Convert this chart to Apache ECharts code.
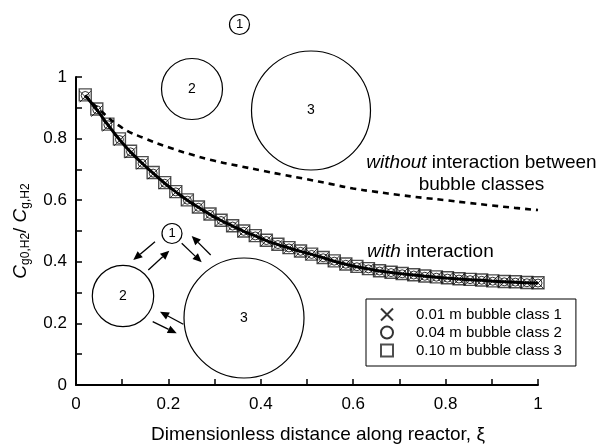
<!DOCTYPE html>
<html><head><meta charset="utf-8">
<script src="https://cdn.jsdelivr.net/npm/echarts@6/dist/echarts.min.js"></script>
<style>html,body{margin:0;padding:0;background:#fff}#c{width:600px;height:445px}</style>
</head><body><div id="c"></div>
<script>
// ---- data ----
const xTickLabels = ['0', '0.2', '0.4', '0.6', '0.8', '1'];
const yTickLabels = ['0', '0.2', '0.4', '0.6', '0.8', '1'];
const seriesNames = ['0.01 m bubble class 1', '0.04 m bubble class 2', '0.10 m bubble class 3'];
const markerX = [0.020,0.045,0.069,0.094,0.118,0.143,0.167,0.192,0.216,0.241,0.265,0.290,0.314,0.339,0.363,0.388,0.412,0.437,0.461,0.486,0.510,0.535,0.559,0.584,0.608,0.633,0.657,0.682,0.706,0.731,0.755,0.780,0.804,0.829,0.853,0.878,0.902,0.927,0.951,0.976,1.000];
const class1 = [0.936,0.889,0.841,0.794,0.754,0.718,0.686,0.654,0.626,0.600,0.577,0.554,0.534,0.516,0.499,0.484,0.469,0.456,0.445,0.434,0.424,0.413,0.402,0.392,0.384,0.377,0.370,0.365,0.361,0.357,0.353,0.350,0.347,0.344,0.342,0.340,0.337,0.335,0.334,0.332,0.331];
const class2 = [0.940,0.894,0.845,0.797,0.757,0.720,0.688,0.655,0.627,0.600,0.577,0.554,0.534,0.516,0.499,0.484,0.469,0.456,0.445,0.434,0.424,0.413,0.402,0.392,0.384,0.377,0.370,0.365,0.361,0.357,0.353,0.350,0.347,0.344,0.342,0.340,0.337,0.335,0.334,0.332,0.331];
const class3 = [0.942,0.896,0.847,0.799,0.759,0.722,0.690,0.657,0.628,0.601,0.578,0.555,0.535,0.517,0.500,0.485,0.470,0.457,0.446,0.435,0.425,0.414,0.403,0.393,0.385,0.378,0.371,0.366,0.362,0.358,0.354,0.351,0.348,0.345,0.343,0.341,0.338,0.336,0.335,0.333,0.332];
const withCurve = [0.940,0.894,0.845,0.797,0.757,0.720,0.688,0.655,0.627,0.600,0.577,0.554,0.534,0.516,0.499,0.484,0.469,0.456,0.445,0.434,0.424,0.413,0.402,0.392,0.384,0.377,0.370,0.365,0.361,0.357,0.353,0.350,0.347,0.344,0.342,0.340,0.337,0.335,0.334,0.332,0.331];
const withoutX = [0.02,0.05,0.1,0.15,0.2,0.25,0.3,0.35,0.4,0.45,0.5,0.55,0.6,0.65,0.7,0.75,0.8,0.85,0.9,0.95,1.0];
const withoutCurve = [0.940,0.895,0.835,0.800,0.772,0.748,0.728,0.712,0.697,0.682,0.668,0.653,0.638,0.627,0.617,0.608,0.600,0.591,0.583,0.575,0.568];

const FONT = '"Liberation Sans", Arial, Helvetica, sans-serif';
const pairs = (xs, ys) => xs.map((x, i) => [x, ys[i]]);
const tickFmt = labels => v => {
  const k = Math.round(v * 10);
  return k % 2 === 0 ? labels[k / 2] : '';
};

function arrow(x1, y1, x2, y2) {
  const dx = x2 - x1, dy = y2 - y1, L = Math.hypot(dx, dy), ux = dx / L, uy = dy / L;
  const hl = 9, hw = 4;
  const bx = x2 - ux * hl, by = y2 - uy * hl;
  return [
    {type: 'line', shape: {x1: x1, y1: y1, x2: bx, y2: by}, style: {stroke: '#000', lineWidth: 1.3}, z: 10},
    {type: 'polygon', shape: {points: [[x2, y2], [bx - uy * hw, by + ux * hw], [bx + uy * hw, by - ux * hw]]}, style: {fill: '#000'}, z: 10}
  ];
}
function bubble(cx, cy, r, label, fs) {
  return [
    {type: 'circle', shape: {cx: cx, cy: cy, r: r}, style: {fill: 'none', stroke: '#000', lineWidth: 1.2}, z: 10},
    {type: 'text', x: cx, y: cy, style: {text: label, fontFamily: FONT, fontSize: fs, fill: '#000', align: 'center', verticalAlign: 'middle'}, z: 10}
  ];
}

const chart = echarts.init(document.getElementById('c'), null, {renderer: 'canvas'});
const markerBase = {type: 'scatter', symbolKeepAspect: true};
chart.setOption({
  animation: false,
  backgroundColor: '#fff',
  grid: {left: 76, right: 62, top: 77, bottom: 60, containLabel: false, outerBoundsMode: 'none'},
  legend: {
    data: seriesNames,
    orient: 'vertical',
    left: 366, top: 299,
    padding: [8, 14, 8, 14],
    itemWidth: 12, itemHeight: 12, itemGap: 3,
    borderColor: '#000', borderWidth: 1, backgroundColor: '#fff',
    textStyle: {fontFamily: FONT, fontSize: 15, color: '#000', padding: [0, 0, 0, 18]},
    selectedMode: false
  },
  xAxis: {
    type: 'value', min: 0, max: 1, interval: 0.1,
    name: 'Dimensionless distance along reactor, ξ',
    nameLocation: 'middle', nameGap: 40,
    nameTextStyle: {fontFamily: FONT, fontSize: 19, color: '#000', padding: [0, 0, 0, 22]},
    axisLine: {lineStyle: {color: '#000', width: 2}},
    axisTick: {inside: true, length: 6, lineStyle: {color: '#000', width: 1.5}},
    axisLabel: {formatter: tickFmt(xTickLabels), fontFamily: FONT, fontSize: 17, color: '#000', margin: 11},
    splitLine: {show: false}
  },
  yAxis: {
    type: 'value', min: 0, max: 1, interval: 0.1,
    name: '{i|C}{s|g0,H2}{n|/ }{i|C}{s|g,H2}',
    nameLocation: 'middle', nameRotate: 90, nameGap: 44,
    nameTextStyle: {
      fontFamily: FONT, color: '#000', padding: [0, 0, 0, 0],
      rich: {
        i: {fontFamily: FONT, fontSize: 19, fontStyle: 'italic', color: '#000', lineHeight: 22, verticalAlign: 'middle'},
        n: {fontFamily: FONT, fontSize: 19, color: '#000', lineHeight: 22, verticalAlign: 'middle'},
        s: {fontFamily: FONT, fontSize: 12, color: '#000', lineHeight: 12, verticalAlign: 'bottom'}
      }
    },
    axisLine: {show: true, lineStyle: {color: '#000', width: 2}},
    axisTick: {show: true, inside: true, length: 6, lineStyle: {color: '#000', width: 1.5}},
    axisLabel: {formatter: tickFmt(yTickLabels), fontFamily: FONT, fontSize: 17, color: '#000', margin: 9},
    splitLine: {show: false}
  },
  series: [
    Object.assign({}, markerBase, {
      name: seriesNames[2], data: pairs(markerX, class3), symbol: 'rect', symbolSize: 12,
      itemStyle: {color: 'rgba(255,255,255,0)', borderColor: '#222', borderWidth: 1.4}, z: 2
    }),
    Object.assign({}, markerBase, {
      name: seriesNames[1], data: pairs(markerX, class2), symbol: 'circle', symbolSize: 8,
      itemStyle: {color: 'rgba(255,255,255,0)', borderColor: '#000', borderWidth: 1}, z: 3
    }),
    Object.assign({}, markerBase, {
      name: seriesNames[0], data: pairs(markerX, class1), symbol: 'path://M0,0L10,10M10,0L0,10', symbolSize: 11,
      itemStyle: {color: 'rgba(255,255,255,0)', borderColor: '#000', borderWidth: 1}, z: 4
    }),
    {
      type: 'line', name: 'with interaction', data: pairs(markerX, withCurve), smooth: true,
      showSymbol: false, lineStyle: {color: '#000', width: 3}, z: 5
    },
    {
      type: 'line', name: 'without interaction', data: pairs(withoutX, withoutCurve), smooth: true,
      showSymbol: false, lineStyle: {color: '#000', width: 2.6, type: [6, 5]}, z: 5
    }
  ],
  graphic: [].concat(
    bubble(239.5, 24.5, 10, '1', 13),
    bubble(192, 89, 30.5, '2', 14),
    bubble(311, 110.5, 59.5, '3', 14),
    bubble(172, 233.5, 10, '1', 13),
    bubble(123, 296, 30.7, '2', 14),
    bubble(244, 318, 60, '3', 14),
    arrow(155, 241.7, 133.3, 260),
    arrow(148.3, 270, 169.3, 250.7),
    arrow(181.7, 243.3, 201.7, 262.3),
    arrow(210.7, 255, 191.7, 236),
    arrow(183.3, 324.3, 160, 311.7),
    arrow(152.7, 321.7, 176.7, 333.3),
    [
      {type: 'text', x: 367, y: 252, z: 10, style: {
        text: '{i|with} interaction', fontFamily: FONT, fontSize: 19, fill: '#000', verticalAlign: 'middle',
        rich: {i: {fontFamily: FONT, fontSize: 19, fontStyle: 'italic', fill: '#000'}}
      }},
      {type: 'text', x: 481.5, y: 163, z: 10, style: {
        text: '{i|without} interaction between', fontFamily: FONT, fontSize: 19, fill: '#000', align: 'center', verticalAlign: 'middle',
        rich: {i: {fontFamily: FONT, fontSize: 19, fontStyle: 'italic', fill: '#000'}}
      }},
      {type: 'text', x: 481.5, y: 185, z: 10, style: {
        text: 'bubble classes', fontFamily: FONT, fontSize: 19, fill: '#000', align: 'center', verticalAlign: 'middle'
      }}
    ]
  )
});
</script>
</body></html>
